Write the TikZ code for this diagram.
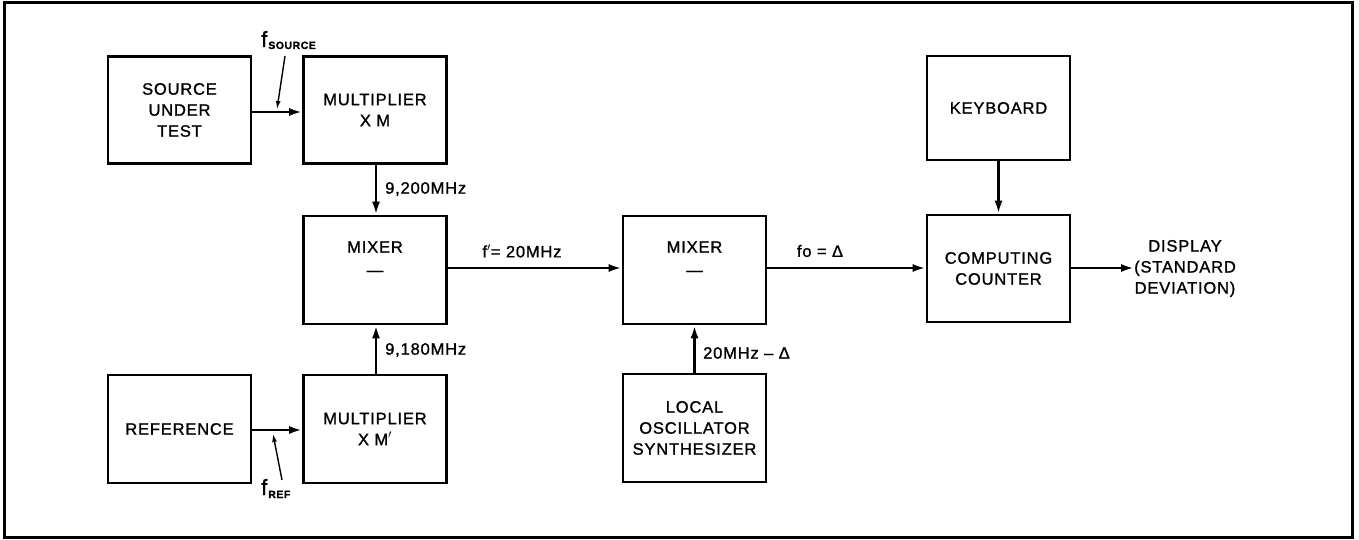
\documentclass[tikz,border=0pt]{standalone}
\usepackage{fontspec}
\setmainfont{Liberation Sans}[LetterSpace=5,FakeBold=1.2]
\usetikzlibrary{arrows.meta}
\begin{document}
\begin{tikzpicture}[x=1pt,y=-1pt,
  blk/.style={draw,line width=2.6pt,minimum width=143pt,minimum height=107pt,align=center,inner sep=0pt,
    font=\fontsize{16.5}{21}\selectfont},
  lbl/.style={inner sep=0pt,font=\fontsize{16.5}{21}\selectfont},
  conn/.style={line width=2.6pt,-{Latex[length=13pt,width=8pt]}},
  ptr/.style={line width=1.4pt,-{Latex[length=8pt,width=5pt]}}]
\useasboundingbox (0,0) rectangle (1359,540);
\draw[line width=3pt] (4,3) rectangle (1352,537);
% blocks
\node[blk] (src) at (179.5,110) {SOURCE\\UNDER\\TEST};
\node[blk] (mulm) at (375,110) {MULTIPLIER\\X M};
\node[blk,minimum height=108pt] (mixl) at (375,270) {MIXER\\[2pt]—\\[2pt]};
\node[blk,minimum height=108pt] (ref) at (179.5,429) {REFERENCE};
\node[blk,minimum height=108pt] (mulm2) at (375,429) {MULTIPLIER\\X M$'$};
\node[blk,minimum height=108pt] (mixm) at (694.5,270) {MIXER\\[2pt]—\\[2pt]};
\node[blk,minimum height=108pt] (lo) at (694.5,428) {LOCAL\\OSCILLATOR\\SYNTHESIZER};
\node[blk,minimum height=104pt] (kb) at (998.5,108) {KEYBOARD};
\node[blk] (cc) at (998.5,268.5) {COMPUTING\\COUNTER};
\node[lbl,align=center,anchor=west] (disp) at (1134,268.5) {DISPLAY\\(STANDARD\\DEVIATION)};
% connectors
\draw[conn] (src.east |- 0,112) -- (mulm.west |- 0,112);
\draw[conn] (ref.east |- 0,430) -- (mulm2.west |- 0,430);
\draw[conn] (mulm.south -| 376,0) -- (mixl.north -| 376,0);
\draw[conn] (mulm2.north -| 376,0) -- (mixl.south -| 376,0);
\draw[conn] (mixl.east |- 0,268) -- (mixm.west |- 0,268);
\draw[conn] (lo.north) -- (mixm.south);
\draw[conn] (mixm.east |- 0,268) -- (cc.west |- 0,268);
\draw[conn] (kb.south) -- (cc.north);
\draw[conn] (cc.east |- 0,268) -- (disp.west |- 0,268);
% labels
\node[lbl,anchor=west] (l9200) at (385,189) {9,200MHz};
\node[lbl,anchor=west] (l9180) at (385,350) {9,180MHz};
\node[lbl] (lfp) at (522,251) {f$'$= 20MHz};
\node[lbl] (lfo) at (820,251) {fo = Δ};
\node[lbl,anchor=west] (l20) at (703,353) {20MHz – Δ};
\node[inner sep=0pt,anchor=base west] (fsrc) at (261,47)
  {\fontsize{22}{22}\selectfont f\kern1pt\raisebox{-2pt}{\fontsize{10.5}{10}\selectfont\bfseries SOURCE}};
\node[inner sep=0pt,anchor=base west] (fref) at (261,495)
  {\fontsize{22}{22}\selectfont f\kern1pt\raisebox{-3pt}{\fontsize{10.5}{10}\selectfont\bfseries REF}};
\coordinate (ps) at (277,109);
\coordinate (pr) at (273,434);
\draw[ptr] (285,56) -- (ps);
\draw[ptr] (282,480) -- (pr);
\end{tikzpicture}
\end{document}
